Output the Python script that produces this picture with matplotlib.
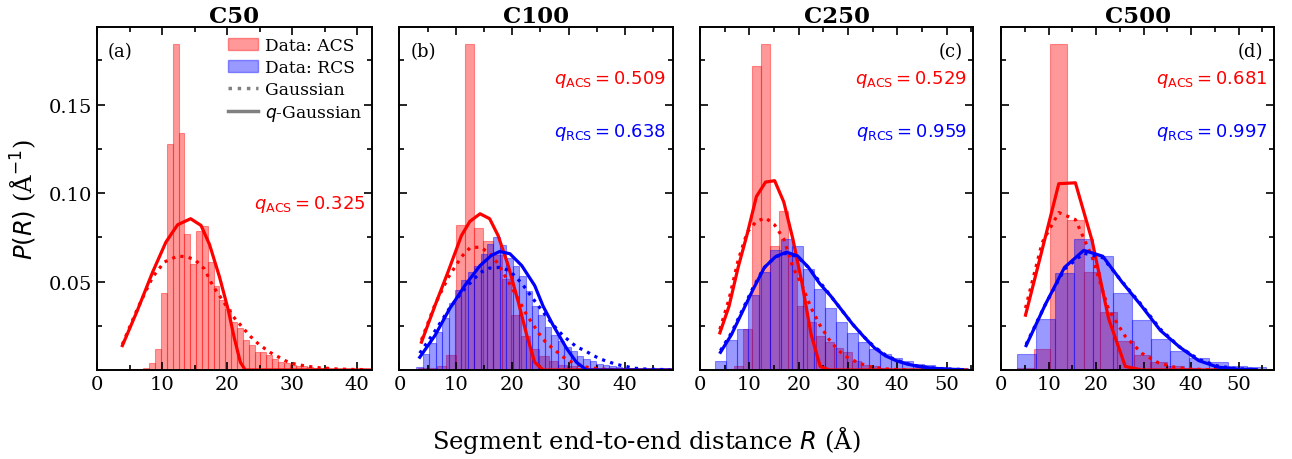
import numpy as np
import matplotlib
matplotlib.use("Agg")
import matplotlib.pyplot as plt
from matplotlib.ticker import MultipleLocator
from matplotlib.patches import Patch
from matplotlib.lines import Line2D

plt.rcParams['font.family'] = 'DejaVu Serif'
plt.rcParams['mathtext.fontset'] = 'dejavusans'

titles = ["C50", "C100", "C250", "C500"]
panel_tags = ["(a)", "(b)", "(c)", "(d)"]
x_max = [42.3, 48.5, 55.4, 57.5]
q_acs = [0.325, 0.509, 0.529, 0.681]
q_rcs = [None, 0.638, 0.959, 0.997]

# ---- histograms: (first bin edge, bin width, heights) ----
acs_start = [5.34, 3.35, 3.1, 3.4]
acs_width = [0.9, 1.65, 1.85, 3.5]
acs_hist = [
    [0.0003, 0.0006, 0.001, 0.004, 0.012, 0.0436, 0.128, 0.1844, 0.134, 0.077,
     0.060, 0.0787, 0.0813, 0.0613, 0.0477, 0.0396, 0.0346, 0.0274, 0.0236, 0.017,
     0.0142, 0.0104, 0.0100, 0.0085, 0.006, 0.0045, 0.004, 0.003, 0.0025, 0.002,
     0.0015, 0.0012, 0.001, 0.0008, 0.0006, 0.0005, 0.0004, 0.0003, 0.0003, 0.0002,
     0.0002],
    [0.001, 0.001, 0.002, 0.0085, 0.0822, 0.1844, 0.080, 0.073, 0.065, 0.0515,
     0.031, 0.019, 0.012, 0.008, 0.005, 0.003, 0.002, 0.0012, 0.0008, 0.0005,
     0.0003, 0.0002],
    [0.0, 0.0005, 0.0025, 0.023, 0.172, 0.1844, 0.070, 0.090, 0.065, 0.0364,
     0.027, 0.019, 0.016, 0.0125, 0.010, 0.0053, 0.003, 0.002, 0.0012, 0.0008,
     0.0005, 0.0003],
    [0.001, 0.012, 0.1844, 0.0845, 0.0553, 0.0327, 0.0166, 0.0085, 0.0044, 0.002,
     0.001, 0.0005, 0.0003],
]
rcs_start = [None, 3.0, 3.04, 3.26]
rcs_width = [None, 1.14, 2.23, 4.04]
rcs_hist = [
    None,
    [0.0016, 0.0091, 0.0153, 0.0214, 0.0293, 0.038, 0.045, 0.051, 0.0553, 0.059,
     0.0657, 0.0713, 0.0751, 0.0709, 0.0634, 0.0585, 0.053, 0.0444, 0.0364, 0.0308,
     0.0242, 0.0200, 0.0165, 0.0129, 0.011, 0.0078, 0.0063, 0.0048, 0.0035, 0.0026,
     0.002, 0.0015, 0.0012, 0.0009, 0.0007, 0.0005, 0.0004, 0.0003, 0.0002, 0.0002],
    [0.0048, 0.017, 0.0232, 0.0425, 0.0553, 0.068, 0.0741, 0.070, 0.0572, 0.0455,
     0.035, 0.027, 0.021, 0.016, 0.012, 0.0091, 0.0066, 0.0048, 0.0035, 0.0026,
     0.0019, 0.0013, 0.001],
    [0.0091, 0.0289, 0.0549, 0.0741, 0.0647, 0.0436, 0.0283, 0.0176, 0.011, 0.0067,
     0.0044, 0.0025, 0.0015, 0.0008],
]

# ---- fitted curves ----
acs_qg_x = [
    [3.9, 6.2, 8.55, 10.6, 12.4, 14.4, 16.0, 17.3, 18.85, 20.15, 21.15, 22.05, 22.8, 42.3],
    [3.9, 6.3, 8.6, 11.0, 12.5, 14.3, 16.0, 17.5, 19.3, 21.1, 22.6, 24.0, 25.5, 48.5],
    [4.03, 5.88, 7.73, 9.58, 11.43, 13.28, 15.13, 16.98, 18.83, 20.68, 22.53, 24.38,
     26.23, 28.08, 33.63, 42.88, 53.98],
    [5.15, 8.65, 12.15, 15.65, 19.15, 22.65, 26.15, 29.65, 33.15, 36.65, 40.15, 43.65, 47.15],
]
acs_qg_y = [
    [0.0138, 0.0336, 0.0553, 0.0723, 0.0821, 0.0855, 0.0817, 0.071, 0.0525, 0.0345,
     0.0176, 0.0044, 0.0, 0.0],
    [0.0157, 0.0364, 0.0553, 0.076, 0.084, 0.0883, 0.0855, 0.076, 0.059, 0.0383,
     0.0195, 0.0044, 0.0, 0.0],
    [0.021, 0.036, 0.058, 0.077, 0.098, 0.1062, 0.107, 0.095, 0.074, 0.049, 0.020,
     0.002, 0.0, 0.0, 0.0, 0.0, 0.0],
    [0.031, 0.068, 0.1053, 0.1058, 0.0732, 0.0289, 0.002, 0.0, 0.0, 0.0, 0.0, 0.0, 0.0],
]
acs_g_x = [
    [3.9, 6.2, 8.55, 10.35, 12.4, 13.7, 15.0, 16.5, 17.8, 19.2, 21.0, 22.4, 23.6,
     24.9, 26.6, 28.0, 29.1, 30.3, 31.7, 33.0, 34.3, 35.6, 36.8, 38.4, 39.7, 41.5],
    [3.9, 6.3, 8.6, 11.0, 12.5, 14.3, 16.0, 17.5, 19.3, 21.1, 22.6, 24.6, 25.4, 26.6,
     27.7, 28.8, 30.2, 31.5, 33.0, 34.5, 36.0, 38.0],
    [4.03, 5.88, 7.73, 9.58, 11.43, 13.28, 15.13, 16.98, 18.83, 20.68, 22.53, 24.38,
     26.23, 28.08, 29.93, 31.78, 33.63, 35.48, 37.33, 39.18, 41.03, 42.88],
    [5.15, 8.65, 12.15, 15.65, 19.15, 22.65, 26.15, 29.65, 33.15, 36.65, 40.15, 43.65, 47.15],
]
acs_g_y = [
    [0.0145, 0.0345, 0.0525, 0.061, 0.0644, 0.064, 0.0625, 0.0572, 0.0477, 0.040,
     0.030, 0.024, 0.019, 0.0145, 0.010, 0.0072, 0.005, 0.0035, 0.0025, 0.0018,
     0.0012, 0.0009, 0.0006, 0.0004, 0.0003, 0.0002],
    [0.017, 0.037, 0.052, 0.064, 0.069, 0.0695, 0.066, 0.060, 0.050, 0.040, 0.031,
     0.0214, 0.0176, 0.0138, 0.011, 0.0078, 0.005, 0.003, 0.0017, 0.001, 0.0005, 0.0002],
    [0.023, 0.040, 0.062, 0.078, 0.084, 0.086, 0.082, 0.074, 0.058, 0.048, 0.035,
     0.025, 0.017, 0.011, 0.007, 0.0045, 0.0025, 0.0013, 0.0007, 0.0003, 0.0002, 0.0001],
    [0.035, 0.072, 0.089, 0.085, 0.064, 0.034, 0.019, 0.0094, 0.004, 0.0015, 0.0005,
     0.0002, 0.0001],
]
rcs_qg_x = [
    None,
    [3.6, 6.3, 8.9, 11.6, 14.3, 16.3, 17.8, 19.6, 21.7, 24.0, 25.5, 27.3, 29.7, 31.4,
     33.2, 48.5],
    [4.15, 6.38, 8.61, 10.84, 13.07, 15.3, 17.53, 19.76, 21.99, 24.22, 26.45, 28.68,
     30.91, 33.14, 35.37, 37.6, 39.83, 42.06, 44.29, 46.52, 48.75, 50.98, 53.21],
    [5.28, 9.32, 13.36, 17.4, 21.4, 25.45, 29.5, 33.55, 37.6, 41.6, 45.65, 49.7, 53.7],
]
rcs_qg_y = [
    None,
    [0.0072, 0.0195, 0.0346, 0.0477, 0.059, 0.0647, 0.067, 0.0657, 0.059, 0.0477,
     0.036, 0.0251, 0.012, 0.0044, 0.0, 0.0],
    [0.010, 0.020, 0.033, 0.046, 0.058, 0.064, 0.0666, 0.0645, 0.058, 0.049, 0.042,
     0.034, 0.026, 0.019, 0.0125, 0.008, 0.0052, 0.0033, 0.002, 0.0012, 0.0007,
     0.0004, 0.0002],
    [0.0138, 0.037, 0.058, 0.0676, 0.0643, 0.0497, 0.0364, 0.0223, 0.0129, 0.0053,
     0.0016, 0.0005, 0.0002],
]
rcs_g_x = [
    None,
    [3.6, 6.3, 8.9, 11.6, 14.3, 16.0, 17.8, 19.6, 21.7, 24.0, 26.4, 27.9, 29.0, 30.3,
     31.5, 32.9, 34.2, 35.6, 36.9, 38.6, 40.2, 41.7, 43.2, 44.7, 46.2, 48.0],
    rcs_qg_x[2],
    rcs_qg_x[3],
]
rcs_g_y = [
    None,
    [0.0095, 0.022, 0.035, 0.046, 0.055, 0.0576, 0.058, 0.056, 0.049, 0.039, 0.029,
     0.0232, 0.0195, 0.016, 0.0129, 0.011, 0.0085, 0.0063, 0.0048, 0.0031, 0.002,
     0.001, 0.0006, 0.0004, 0.0003, 0.0002],
    [0.011, 0.021, 0.034, 0.047, 0.058, 0.064, 0.066, 0.064, 0.058, 0.050, 0.042,
     0.034, 0.026, 0.019, 0.013, 0.0085, 0.0055, 0.0035, 0.0021, 0.0013, 0.0008,
     0.0005, 0.0003],
    [0.0145, 0.037, 0.057, 0.066, 0.0635, 0.050, 0.037, 0.023, 0.013, 0.006, 0.0022,
     0.0007, 0.0002],
]

fig = plt.figure(figsize=(12.92, 4.6), dpi=100)
rects = [(0.0751, 0.1935, 0.2128, 0.745),
         (0.3092, 0.1935, 0.2115, 0.745),
         (0.5418, 0.1935, 0.2115, 0.745),
         (0.7748, 0.1935, 0.2115, 0.745)]

lw = 2.3
for i in range(4):
    ax = fig.add_axes(rects[i])
    edges = acs_start[i] + acs_width[i] * np.arange(len(acs_hist[i]))
    ax.bar(edges, acs_hist[i], width=acs_width[i], align='edge', color='red',
           edgecolor='red', linewidth=0.8, alpha=0.4)
    if rcs_hist[i] is not None:
        edges = rcs_start[i] + rcs_width[i] * np.arange(len(rcs_hist[i]))
        ax.bar(edges, rcs_hist[i], width=rcs_width[i], align='edge', color='blue',
               edgecolor='blue', linewidth=0.8, alpha=0.4)
    ax.plot(acs_g_x[i], acs_g_y[i], ':', color='red', lw=lw)
    ax.plot(acs_qg_x[i], acs_qg_y[i], '-', color='red', lw=lw)
    if rcs_hist[i] is not None:
        ax.plot(rcs_g_x[i], rcs_g_y[i], ':', color='blue', lw=lw)
        ax.plot(rcs_qg_x[i], rcs_qg_y[i], '-', color='blue', lw=lw)

    ax.set_xlim(0, x_max[i])
    ax.set_ylim(0, 0.1937)
    ax.xaxis.set_major_locator(MultipleLocator(10))
    ax.xaxis.set_minor_locator(MultipleLocator(5))
    ax.set_yticks([0.05, 0.10, 0.15])
    ax.yaxis.set_minor_locator(MultipleLocator(0.025))
    ax.tick_params(which='both', direction='in', top=True, right=True, width=1.2,
                   labelsize=14)
    ax.tick_params(which='major', length=6)
    ax.tick_params(which='minor', length=3.5)
    for s in ax.spines.values():
        s.set_linewidth(1.4)
    if i > 0:
        ax.set_yticklabels([])
    else:
        ax.set_yticklabels(["0.05", "0.10", "0.15"])
    ax.set_title(titles[i], fontsize=16.5, fontweight='bold', pad=4)

    if i < 2:
        ax.text(0.04, 0.93, panel_tags[i], transform=ax.transAxes, fontsize=13,
                ha='left', va='center')
    else:
        ax.text(0.96, 0.93, panel_tags[i], transform=ax.transAxes, fontsize=13,
                ha='right', va='center')

    if i == 0:
        ax.text(0.975, 0.485, r"$q_{\mathrm{ACS}} = %.3f$" % q_acs[i], color='red',
                transform=ax.transAxes, fontsize=13, ha='right', va='center')
        handles = [Patch(facecolor='red', edgecolor='red', alpha=0.4),
                   Patch(facecolor='blue', edgecolor='blue', alpha=0.4),
                   Line2D([], [], ls=':', color='gray', lw=2.5),
                   Line2D([], [], ls='-', color='gray', lw=2.5)]
        ax.legend(handles, ["Data: ACS", "Data: RCS", "Gaussian", "$q$-Gaussian"],
                  loc='upper right', frameon=False, fontsize=12.3, handlelength=1.8,
                  handletextpad=0.4, labelspacing=0.3, borderaxespad=0.15)
    else:
        ax.text(0.975, 0.852, r"$q_{\mathrm{ACS}} = %.3f$" % q_acs[i], color='red',
                transform=ax.transAxes, fontsize=13, ha='right', va='center')
        ax.text(0.975, 0.695, r"$q_{\mathrm{RCS}} = %.3f$" % q_rcs[i], color='blue',
                transform=ax.transAxes, fontsize=13, ha='right', va='center')

fig.text(0.5, 0.043, "Segment end-to-end distance $R$ (Å)", ha='center', va='center',
         fontsize=17.5)
fig.text(0.018, 0.566, "$P(R)$ (Å$^{-1}$)", ha='center', va='center', rotation=90,
         fontsize=17.5)

fig.savefig("out.png", dpi=100)
